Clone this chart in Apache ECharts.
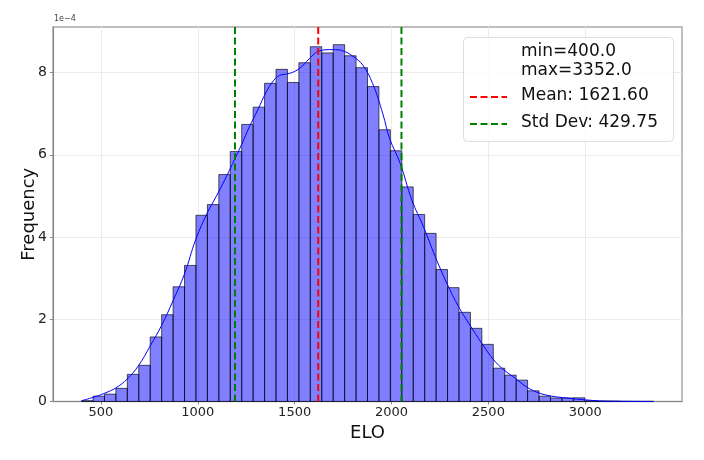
<!DOCTYPE html>
<html>
    <head>
        <meta charset="utf-8">
        <title>ELO</title>
        <script src="https://cdn.jsdelivr.net/npm/echarts@6/dist/echarts.min.js"></script>
        <style>
            html, body { margin: 0; padding: 0; background: #fff; }
            #chart1 { width: 704px; height: 460px; }
        </style>
    </head>
    <body>
        <div id="chart1"></div>
        <script type="text/javascript">
            // histogram: 50 bins between min and max, heights in units of 1e-4
            var eloMin = 400.0;
            var eloMax = 3352.0;
            var binCount = 50;
            var binHeights = [
                0.02, 0.13, 0.18, 0.32, 0.66, 0.88, 1.57, 2.11, 2.79, 3.31,
                4.53, 4.79, 5.52, 6.08, 6.74, 7.16, 7.74, 8.08, 7.76, 8.24,
                8.63, 8.48, 8.68, 8.41, 8.12, 7.66, 6.61, 6.10, 5.22, 4.55,
                4.09, 3.21, 2.77, 2.17, 1.78, 1.39, 0.81, 0.64, 0.52, 0.26,
                0.13, 0.085, 0.085, 0.09, 0.02, 0.01, 0.01, 0.005, 0.005, 0.005
            ];
            // kde curve: elo / density (1e-4)
            var kdeX = [400, 459, 518, 577, 636, 695, 754, 813, 872, 931,
                        990, 1050, 1094, 1140, 1180, 1226, 1266, 1310, 1353, 1390,
                        1421, 1473, 1525, 1576, 1628, 1697, 1749, 1800, 1852, 1903,
                        1955, 1990, 2045, 2105, 2165, 2226, 2286, 2347, 2399, 2467,
                        2528, 2580, 2640, 2709, 2795, 2915, 3001, 3104, 3352];
            var kdeY = [0.02, 0.10, 0.20, 0.33, 0.55, 0.88, 1.35, 1.85, 2.45, 3.10,
                        3.95, 4.60, 4.98, 5.40, 5.79, 6.25, 6.68, 7.10, 7.53, 7.80,
                        7.93, 7.98, 8.10, 8.34, 8.53, 8.56, 8.53, 8.40, 8.18, 7.73,
                        7.00, 6.40, 5.79, 4.90, 4.25, 3.52, 2.87, 2.30, 1.90, 1.41,
                        1.01, 0.77, 0.56, 0.32, 0.16, 0.08, 0.04, 0.01, 0.0];
            var meanElo = 1621.60;
            var stdElo = 429.75;
            var xTicks = [500, 1000, 1500, 2000, 2500, 3000];
            var yTicks = [0, 2, 4, 6, 8];

            var xLo = 252.4, xHi = 3499.6, yHi = 9.11;
            var font = 'DejaVu Sans';
            var meanColor = '#ff0000', stdColor = '#008000';
            var dash = [7, 3.5];

            var binWidth = (eloMax - eloMin) / binCount;
            var histData = binHeights.map(function (h, i) {
                return [eloMin + i * binWidth, eloMin + (i + 1) * binWidth, h];
            });
            var kdeData = kdeX.map(function (x, i) { return [x, kdeY[i]]; });

            function renderBar(params, api) {
                var p0 = api.coord([api.value(0), api.value(2)]);
                var p1 = api.coord([api.value(1), 0]);
                return {
                    type: 'rect',
                    shape: { x: p0[0], y: p0[1], width: p1[0] - p0[0], height: p1[1] - p0[1] },
                    style: { fill: 'rgba(0,0,255,0.5)', stroke: 'rgba(0,0,0,0.65)', lineWidth: 1 }
                };
            }

            function vline(name, x, color) {
                return {
                    name: name,
                    type: 'line',
                    data: [[x, 0], [x, yHi]],
                    symbol: 'none',
                    silent: true,
                    z: 5,
                    lineStyle: { color: color, width: 2, type: dash }
                };
            }

            // legend drawn by hand (box, min/max text, dashed keys)
            var legendRows = [
                { text: 'Mean: 1621.60', color: meanColor, y: 97 },
                { text: 'Std Dev: 429.75', color: stdColor, y: 124 }
            ];
            var legendGraphic = [
                {
                    type: 'rect', left: 463, top: 37, z: 90,
                    shape: { width: 210, height: 104, r: 4 },
                    style: { fill: 'rgba(255,255,255,0.8)', stroke: '#dddddd', lineWidth: 1 }
                },
                {
                    type: 'text', left: 521, top: 42, z: 100,
                    style: { text: 'min=400.0\nmax=3352.0', fontSize: 17, lineHeight: 19,
                             fontFamily: font, fill: '#111' }
                }
            ];
            legendRows.forEach(function (r) {
                legendGraphic.push({
                    type: 'line', z: 100,
                    shape: { x1: 470, y1: r.y, x2: 507, y2: r.y },
                    style: { stroke: r.color, lineWidth: 2, lineDash: dash }
                });
                legendGraphic.push({
                    type: 'text', left: 521, top: r.y - 10, z: 100,
                    style: { text: r.text, fontSize: 17, fontFamily: font, fill: '#111' }
                });
            });
            legendGraphic.push({
                type: 'text', left: 54, top: 15, z: 100,
                style: { text: '1e\u22124', fontSize: 8, fontFamily: font, fill: '#444' }
            });

            var myChart1 = echarts.init(document.getElementById('chart1'));
            var option = {
                animation: false,
                textStyle: { fontFamily: font },
                grid: {
                    left: 53, right: 22, top: 27, bottom: 58.5,
                    show: true, borderColor: '#aaaaaa', borderWidth: 1.5, backgroundColor: '#fff'
                },
                xAxis: {
                    type: 'value',
                    min: xLo, max: xHi,
                    name: 'ELO', nameLocation: 'middle', nameGap: 21,
                    nameTextStyle: { fontSize: 18, color: '#111', fontFamily: font },
                    axisLine: { show: true, onZero: false, lineStyle: { color: '#888', width: 1.2 } },
                    axisTick: { show: true, length: 3, lineStyle: { color: '#888' }, customValues: xTicks },
                    axisLabel: { fontSize: 13, color: '#222', margin: 5, customValues: xTicks,
                                 formatter: function (v) { return String(v); } },
                    splitLine: { show: true, lineStyle: { color: '#ebebeb', width: 1 } }
                },
                yAxis: {
                    type: 'value',
                    min: 0, max: yHi,
                    name: 'Frequency', nameLocation: 'middle', nameGap: 15, nameRotate: 90,
                    nameMoveOverlap: false,
                    nameTextStyle: { fontSize: 18, color: '#111', fontFamily: font },
                    axisLine: { show: true, lineStyle: { color: '#888', width: 1.2 } },
                    axisTick: { show: true, length: 3, lineStyle: { color: '#888' }, customValues: yTicks },
                    axisLabel: { fontSize: 14, color: '#222', margin: 6, customValues: yTicks,
                                 formatter: function (v) { return String(v); } },
                    splitLine: { show: true, lineStyle: { color: '#ebebeb', width: 1 } }
                },
                graphic: legendGraphic,
                series: [
                    {
                        name: 'hist',
                        type: 'custom',
                        renderItem: renderBar,
                        encode: { x: [0, 1], y: 2 },
                        data: histData,
                        silent: true,
                        z: 2
                    },
                    {
                        name: 'kde',
                        type: 'line',
                        data: kdeData,
                        smooth: 0.4,
                        symbol: 'none',
                        silent: true,
                        z: 3,
                        lineStyle: { color: '#0000ff', width: 1 }
                    },
                    vline('Mean: 1621.60', meanElo, meanColor),
                    vline('Std Dev: 429.75', meanElo - stdElo, stdColor),
                    vline('Std Dev: 429.75', meanElo + stdElo, stdColor)
                ]
            };
            myChart1.setOption(option);
        </script>
    </body>
</html>
